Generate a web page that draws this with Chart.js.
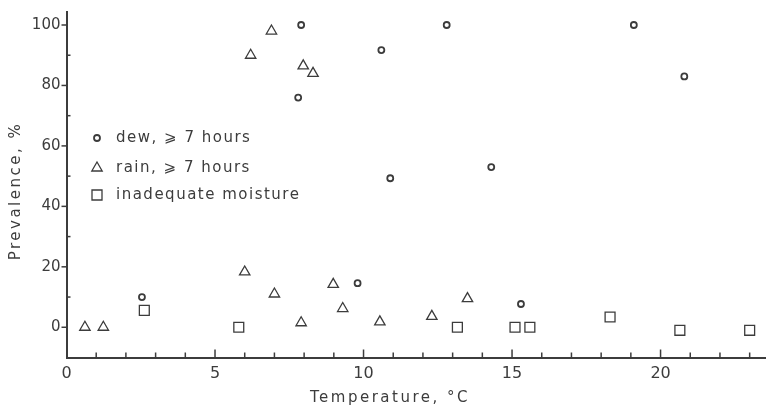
<!DOCTYPE html>
<html>
<head>
<meta charset="utf-8">
<script src="https://cdn.jsdelivr.net/npm/chart.js@4.4.1/dist/chart.umd.min.js"></script>
<style>
  html, body { margin: 0; padding: 0; background: #fff; }
  #wrap { width: 766px; height: 409px; position: relative; }
</style>
</head>
<body>
<div id="wrap"><canvas id="prevalenceChart"></canvas></div>
<script>
// temperature (deg C) and prevalence (%) for each moisture condition
var dewTemp  = [2.54, 7.8, 7.9, 9.8, 10.6, 10.9, 12.8, 14.3, 15.3, 19.1, 20.8];
var dewPrev  = [10, 76, 100, 14.6, 91.7, 49.3, 100, 53, 7.7, 100, 83];

var rainTemp = [0.62, 1.24, 6.0, 6.2, 6.9, 7.0, 7.9, 7.97, 8.3, 8.98, 9.3, 10.55, 12.3, 13.5];
var rainPrev = [0, 0, 18.3, 90, 98, 11, 1.5, 86.5, 84, 14.2, 6.2, 1.8, 3.6, 9.5];

var dryTemp  = [2.62, 5.8, 13.16, 15.1, 15.6, 18.3, 20.65, 23.0];
var dryPrev  = [5.6, 0, 0, 0, 0, 3.4, -1, -1];

var legendLabels = ["dew, \u2A7E 7 hours", "rain, \u2A7E 7 hours", "inadequate moisture"];
var xTitle = "Temperature, \u00B0C";
var yTitle = "Prevalence, %";

var ink = "#3c3c3c";
var fontFamily = "'DejaVu Sans', sans-serif";

function pairs(xs, ys) {
    var out = [];
    for (var i = 0; i < xs.length; i++) out.push({ x: xs[i], y: ys[i] });
    return out;
}

// hollow marker, same shapes as the data points
function drawMark(ctx, style, x, y) {
    ctx.save();
    ctx.strokeStyle = ink;
    ctx.beginPath();
    if (style === "circle") {
        ctx.lineWidth = 1.8;
        ctx.arc(x, y, 3, 0, Math.PI * 2);
    } else if (style === "triangle") {
        ctx.lineWidth = 1.3;
        var r = 6;
        ctx.moveTo(x, y - r);
        ctx.lineTo(x + r * Math.sin(2 * Math.PI / 3), y + r / 2);
        ctx.lineTo(x - r * Math.sin(2 * Math.PI / 3), y + r / 2);
        ctx.closePath();
    } else {
        ctx.lineWidth = 1.3;
        ctx.rect(x - 5, y - 5, 10, 10);
    }
    ctx.stroke();
    ctx.restore();
}

var decor = {
    id: "decor",
    afterDraw: function(chart) {
        var ctx = chart.ctx;
        var xs = chart.scales.x, ys = chart.scales.y;
        var area = chart.chartArea;

        ctx.save();
        ctx.strokeStyle = ink;
        ctx.lineWidth = 1.5;

        // x ticks point up into the plot
        for (var i = 1; i <= 23; i++) {
            var px = xs.getPixelForValue(i);
            var len = (i % 5 === 0) ? 8 : 5;
            ctx.beginPath();
            ctx.moveTo(px, area.bottom);
            ctx.lineTo(px, area.bottom - len);
            ctx.stroke();
        }
        // y ticks: majors outside, minors inside
        for (var v = 0; v <= 100; v += 10) {
            var py = ys.getPixelForValue(v);
            ctx.beginPath();
            if (v % 20 === 0) {
                ctx.moveTo(area.left - 5, py);
                ctx.lineTo(area.left, py);
            } else {
                ctx.moveTo(area.left, py);
                ctx.lineTo(area.left + 4, py);
            }
            ctx.stroke();
        }

        // legend
        var styles = ["circle", "triangle", "rect"];
        var rows = [138, 168, 195];
        ctx.fillStyle = ink;
        ctx.font = "15px " + fontFamily;
        ctx.letterSpacing = "1.5px";
        ctx.textBaseline = "middle";
        ctx.textAlign = "left";
        for (var k = 0; k < 3; k++) {
            drawMark(ctx, styles[k], 97, rows[k]);
            ctx.fillText(legendLabels[k], 116, rows[k]);
        }

        // axis titles
        ctx.letterSpacing = "2.5px";
        ctx.textAlign = "center";
        ctx.fillText(xTitle, 390, 398);
        ctx.translate(16, 191);
        ctx.rotate(-Math.PI / 2);
        ctx.fillText(yTitle, 0, 0);
        ctx.restore();
    }
};

var ctx = document.getElementById("prevalenceChart");
var chart = new Chart(ctx, {
    type: "scatter",
    data: {
        datasets: [{
            label: legendLabels[0],
            data: pairs(dewTemp, dewPrev),
            pointStyle: "circle",
            pointRadius: 3,
            pointBorderWidth: 1.8,
            borderColor: ink,
            backgroundColor: "rgba(255,255,255,0)"
        },
        {
            label: legendLabels[1],
            data: pairs(rainTemp, rainPrev),
            pointStyle: "triangle",
            pointRadius: 6,
            pointBorderWidth: 1.3,
            borderColor: ink,
            backgroundColor: "rgba(255,255,255,0)"
        },
        {
            label: legendLabels[2],
            data: pairs(dryTemp, dryPrev),
            pointStyle: "rect",
            pointRadius: 7,
            pointBorderWidth: 1.3,
            borderColor: ink,
            backgroundColor: "rgba(255,255,255,0)"
        }]
    },
    options: {
        responsive: true,
        maintainAspectRatio: false,
        animation: false,
        layout: {
            autoPadding: false,
            padding: { top: 12, right: 0, left: 0, bottom: 0 }
        },
        plugins: {
            legend: { display: false },
            tooltip: { enabled: false }
        },
        scales: {
            x: {
                type: "linear",
                min: 0,
                max: 23.55,
                afterFit: function(s) {
                    s.height = 51.5;
                    s.paddingLeft = 0;
                    s.paddingRight = 0;
                },
                grid: { display: false, drawTicks: false },
                border: { display: true, color: ink, width: 2 },
                ticks: {
                    stepSize: 1,
                    autoSkip: false,
                    includeBounds: false,
                    maxRotation: 0,
                    padding: 7,
                    color: ink,
                    font: { family: fontFamily, size: 16 },
                    callback: function(v) { return v % 5 === 0 ? v : ""; }
                }
            },
            y: {
                type: "linear",
                min: -10,
                max: 104.3,
                afterFit: function(s) {
                    s.width = 66.5;
                    s.paddingTop = 0;
                    s.paddingBottom = 0;
                },
                grid: { display: false, drawTicks: false },
                border: { display: true, color: ink, width: 2 },
                ticks: {
                    stepSize: 10,
                    autoSkip: false,
                    includeBounds: false,
                    padding: 6,
                    color: ink,
                    font: { family: fontFamily, size: 15 },
                    callback: function(v) { return (v >= 0 && v % 20 === 0) ? v : ""; }
                }
            }
        }
    },
    plugins: [decor]
});
</script>
</body>
</html>
